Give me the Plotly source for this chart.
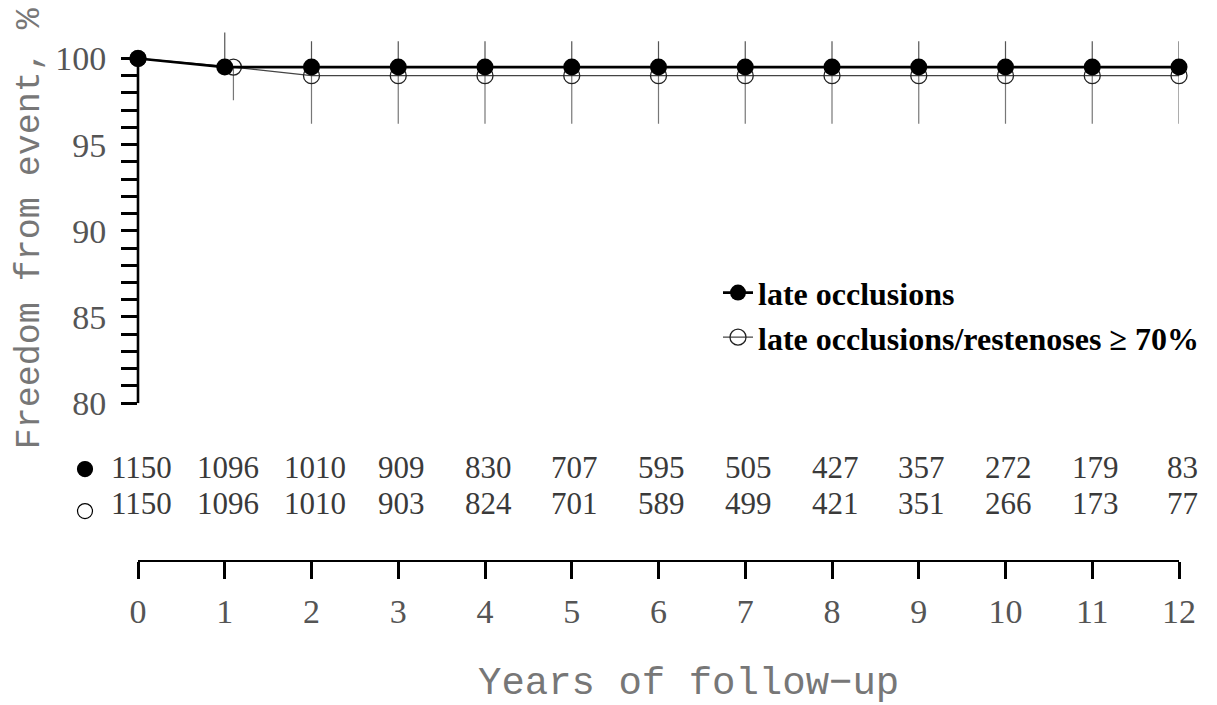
import plotly.graph_objects as go

# ---------------- data ----------------
years = list(range(0, 13))
occl_x = years
occl_y = [100, 99.5, 99.5, 99.5, 99.5, 99.5, 99.5, 99.5, 99.5, 99.5, 99.5, 99.5, 99.5]
occl_err_up = [0, 2.0, 1.5, 1.5, 1.5, 1.5, 1.5, 1.5, 1.5, 1.5, 1.5, 1.5, 1.5]

rest_x = [0, 1.1, 2, 3, 4, 5, 6, 7, 8, 9, 10, 11, 12]
rest_y = [100, 99.5, 99.0, 99.0, 99.0, 99.0, 99.0, 99.0, 99.0, 99.0, 99.0, 99.0, 99.0]
rest_err_down = [0, 1.93, 2.79, 2.79, 2.79, 2.79, 2.79, 2.79, 2.79, 2.79, 2.79, 2.79, 2.79]

at_risk_occl = [1150, 1096, 1010, 909, 830, 707, 595, 505, 427, 357, 272, 179, 83]
at_risk_rest = [1150, 1096, 1010, 903, 824, 701, 589, 499, 421, 351, 266, 173, 77]

y_tickvals = list(range(80, 101))
y_ticktext = [str(v) if v % 5 == 0 else "" for v in y_tickvals]
x_tickvals = years
x_ticktext = [str(v) for v in years]

name_occl = "late occlusions"
name_rest = "late occlusions/restenoses \u2265 70%"
x_title = "Years of follow\u2212up"
y_title = "Freedom from event, %"

# ---------------- figure ----------------
OFF = 8  # page body margin in the browser
W, H = 1217 - OFF, 705 - OFF
L, R, T, B = 138 - OFF, 38, 23.5 - OFF, 705 - 561
plot_h = H - T - B
dom_bottom = (H - B - (403 - OFF)) / plot_h


def px_to_paper_x(px):
    return (px - OFF - L) / (W - L - R)


def px_to_paper_y(py):
    return (H - B - (py - OFF)) / plot_h


fig = go.Figure()

fig.add_trace(go.Scatter(
    x=rest_x, y=rest_y, name=name_rest, mode="lines+markers",
    line=dict(color="#444444", width=1.2),
    marker=dict(symbol="circle-open", size=16, color="#222222", line=dict(width=1.3, color="#222222")),
    error_y=dict(type="data", symmetric=False, array=[0] * len(rest_y), arrayminus=rest_err_down,
                 color="#777777", thickness=1.2, width=0),
    cliponaxis=False,
))
fig.add_trace(go.Scatter(
    x=occl_x, y=occl_y, name=name_occl, mode="lines+markers",
    line=dict(color="black", width=2.6),
    marker=dict(symbol="circle", size=17, color="black"),
    error_y=dict(type="data", symmetric=False, array=occl_err_up, arrayminus=[0] * len(occl_y),
                 color="#555555", thickness=1.2, width=0),
    cliponaxis=False,
))

# y axis line only from 80 to 100
fig.add_shape(type="line", xref="paper", yref="y", x0=0, x1=0, y0=80, y1=100,
              line=dict(color="black", width=2.6))

annotations = []
row1_y = px_to_paper_y(467)
row2_y = px_to_paper_y(503)
for x, a, b in zip(years, at_risk_occl, at_risk_rest):
    annotations.append(dict(x=x, y=row1_y, xref="x", yref="paper", text=str(a), showarrow=False,
                            xanchor="center", yanchor="middle", xshift=3,
                            font=dict(family="Liberation Serif", size=31, color="#3a3a3a")))
    annotations.append(dict(x=x, y=row2_y, xref="x", yref="paper", text=str(b), showarrow=False,
                            xanchor="center", yanchor="middle", xshift=3,
                            font=dict(family="Liberation Serif", size=31, color="#3a3a3a")))

annotations.append(dict(x=px_to_paper_x(688), y=px_to_paper_y(684), xref="paper", yref="paper",
                        text=x_title, showarrow=False, xanchor="center", yanchor="middle",
                        font=dict(family="Liberation Mono", size=39, color="#777777")))
annotations.append(dict(x=px_to_paper_x(30), y=px_to_paper_y(228), xref="paper", yref="paper",
                        text=y_title, showarrow=False, xanchor="center", yanchor="middle", textangle=-90,
                        font=dict(family="Liberation Mono", size=35, color="#777777")))

# at-risk row symbols
for cy, filled in ((469, True), (511, False)):
    fig.add_shape(type="circle", xref="paper", yref="paper",
                  xsizemode="pixel", ysizemode="pixel",
                  xanchor=px_to_paper_x(85), yanchor=px_to_paper_y(cy),
                  x0=-7.5, x1=7.5, y0=-7.5, y1=7.5,
                  fillcolor="black" if filled else "white",
                  line=dict(color="black", width=1.2))

fig.update_layout(
    width=W, height=H,
    margin=dict(l=L, r=R, t=T, b=B, pad=0, autoexpand=False),
    paper_bgcolor="white", plot_bgcolor="white",
    showlegend=True,
    legend=dict(x=px_to_paper_x(718), y=px_to_paper_y(265), xanchor="left", yanchor="top",
                bgcolor="rgba(0,0,0,0)", traceorder="reversed",
                font=dict(family="Liberation Serif", size=32, color="black", weight="bold"),
                tracegroupgap=0),
    annotations=annotations,
    xaxis=dict(range=[0, 12], anchor="free", position=0,
               showline=True, linecolor="black", linewidth=2,
               ticks="outside", ticklen=17, tickwidth=2.5, tickcolor="black",
               tickmode="array", tickvals=x_tickvals, ticktext=x_ticktext,
               tickfont=dict(family="Liberation Serif", size=34, color="#555555"),
               ticklabelstandoff=3,
               showgrid=False, zeroline=False, automargin=False),
    yaxis=dict(range=[80, 102], domain=[dom_bottom, 1],
               showline=False, ticks="outside", ticklen=16, tickwidth=2.5, tickcolor="black",
               tickmode="array", tickvals=y_tickvals, ticktext=y_ticktext,
               tickfont=dict(family="Liberation Serif", size=34, color="#555555"),
               ticklabelstandoff=8,
               showgrid=False, zeroline=False, automargin=False),
)

fig.write_html("out.html")
